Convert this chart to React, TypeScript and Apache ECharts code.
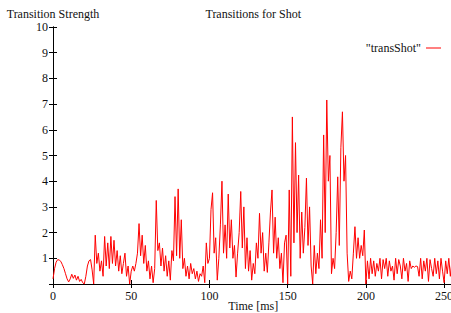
import React, { useEffect, useRef } from "react";
import * as echarts from "echarts";

// Transition strength sampled every 1 ms, starting at t = 0 ms
const timeStepMs = 1;
const transShot: number[] = [
  0.2, 0.6, 0.85, 0.95, 0.93, 0.88, 0.75, 0.6, 0.4, 0.2,
  0.08, 0.2, 0.38, 0.22, 0.35, 0.15, 0.3, 0.1, 0.18, 0.05,
  0.0, 0.3, 0.7, 0.9, 0.95, 0.55, 0.0, 1.9, 0.8, 1.2,
  0.5, 0.9, 0.3, 1.85, 0.7, 1.6, 0.6, 1.85, 0.8, 1.7,
  0.7, 1.3, 0.5, 1.1, 0.4, 0.8, 1.2, 0.3, 0.7, 0.0,
  0.5, 0.7, 0.5, 0.8, 1.2, 2.35, 1.1, 1.9, 0.8, 1.5,
  0.5, 0.9, 0.2, 0.7, 0.05, 0.6, 3.25, 1.3, 1.6, 0.7,
  1.4, 0.5, 1.1, 0.3, 0.9, 0.15, 1.3, 0.9, 3.4, 1.1,
  3.7, 1.0, 2.5, 0.6, 1.0, 0.3, 0.7, 0.2, 0.8, 0.4,
  0.6, 0.2, 0.5, 0.1, 0.4, 0.3, 0.7, 0.05, 1.6, 0.8,
  1.0, 2.9, 3.55, 1.2, 1.8, 0.15, 1.0, 2.3, 4.0, 1.2,
  2.3, 1.0, 3.5, 1.4, 2.5, 1.0, 1.5, 0.27, 1.2, 2.0,
  3.6, 1.4, 3.0, 0.6, 1.8, 0.5, 1.3, 0.15, 0.8, 0.4,
  1.6, 1.0, 2.75, 1.2, 2.0, 0.5, 1.2, 0.45, 1.6, 2.8,
  3.66, 1.2, 2.6, 1.0, 1.8, 0.6, 1.2, 0.05, 1.6, 1.9,
  0.0, 3.66, 0.3, 6.5, 1.6, 5.5, 2.0, 4.24, 1.0, 2.8,
  1.2, 2.2, 4.12, 1.5, 3.0, 0.7, 0.0, 1.5, 0.4, 1.2,
  0.6, 2.5, 1.0, 5.8, 2.0, 7.16, 4.0, 5.0, 0.4, 1.0,
  0.6, 2.0, 4.17, 1.5, 5.3, 6.7, 4.0, 5.0, 1.2, 0.1,
  0.5, 0.2, 1.2, 2.23, 1.0, 1.8, 1.0, 1.5, 1.1, 2.1,
  0.0, 0.9, 0.2, 1.0, 0.4, 0.9, 0.3, 0.8, 0.5, 1.0,
  0.2, 0.95, 0.6, 1.0, 0.3, 0.9, 0.5, 0.7, 0.15, 1.0,
  0.4, 0.95, 0.7, 0.2, 1.0, 0.5, 0.8, 0.1, 0.9, 0.6,
  0.7, 0.65, 0.7, 0.68, 0.3, 1.0, 0.2, 0.9, 0.5, 1.0,
  0.1, 0.95, 0.6, 0.3, 1.0, 0.4, 0.9, 0.2, 1.0, 0.5,
  0.05, 0.9, 0.4, 1.0, 0.3, 0.9, 0.6,
];

const xTickLabels = ["0", "50", "100", "150", "200", "250"];
const yTickLabels = ["1", "2", "3", "4", "5", "6", "7", "8", "9", "10"];

const chartTitle = "Transitions for Shot";
const xTitle = "Time [ms]";
const yTitle = "Transition Strength";
const seriesName = '"transShot"';

const FONT = "Liberation Serif";
const TEXT_COLOR = "#111";

export default function App() {
  const ref = useRef<HTMLDivElement>(null);

  useEffect(() => {
    if (!ref.current) return;
    const chart = echarts.init(ref.current, undefined, { renderer: "svg" });
    const data = transShot.map((v, i) => [i * timeStepMs, v]);
    const axisLine = { show: true, lineStyle: { color: "#000", width: 1 } };
    const xLabelFmt = (v: number) => (xTickLabels.includes(String(v)) ? String(v) : "");
    const yLabelFmt = (v: number) => (yTickLabels.includes(String(v)) ? String(v) : "");
    chart.setOption({
      animation: false,
      backgroundColor: "#fff",
      grid: {
        left: 53,
        top: 27,
        right: -2.5,
        bottom: 29,
        containLabel: false,
        outerBoundsMode: "none",
      },
      legend: {
        data: [seriesName],
        align: "right",
        right: 5,
        top: 37,
        itemWidth: 15,
        itemHeight: 1,
        icon: "rect",
        textStyle: { fontFamily: FONT, fontSize: 12, color: TEXT_COLOR },
      },
      xAxis: [
        {
          type: "value",
          position: "bottom",
          min: 0,
          max: 256,
          interval: 50,
          axisLine,
          axisTick: { show: true, inside: true, length: 4, lineStyle: { color: "#000" } },
          axisLabel: { formatter: xLabelFmt, fontFamily: FONT, fontSize: 12, color: TEXT_COLOR, margin: 6 },
          splitLine: { show: false },
          name: xTitle,
          nameLocation: "middle",
          nameGap: 16,
          nameMoveOverlap: false,
          nameTextStyle: { fontFamily: FONT, fontSize: 12, color: TEXT_COLOR },
        },
        {
          type: "value",
          position: "top",
          min: 0,
          max: 256,
          interval: 50,
          axisLine,
          axisTick: { show: true, inside: true, length: 4, lineStyle: { color: "#000" } },
          axisLabel: { show: false },
          splitLine: { show: false },
          name: chartTitle,
          nameLocation: "middle",
          nameGap: 7,
          nameTextStyle: { fontFamily: FONT, fontSize: 12, color: TEXT_COLOR },
        },
      ],
      yAxis: [
        {
          type: "value",
          position: "left",
          min: 0,
          max: 10,
          interval: 1,
          axisLine,
          axisTick: { show: true, inside: true, length: 4, lineStyle: { color: "#000" } },
          axisLabel: { formatter: yLabelFmt, fontFamily: FONT, fontSize: 12, color: TEXT_COLOR, margin: 5 },
          splitLine: { show: false },
          name: yTitle,
          nameLocation: "end",
          nameGap: 7,
          nameTextStyle: { fontFamily: FONT, fontSize: 12, color: TEXT_COLOR },
        },
        {
          type: "value",
          position: "right",
          min: 0,
          max: 10,
          interval: 1,
          axisLine,
          axisTick: { show: true, inside: true, length: 4, lineStyle: { color: "#000" } },
          axisLabel: { show: false },
          splitLine: { show: false },
        },
      ],
      series: [
        {
          name: seriesName,
          type: "line",
          xAxisIndex: 0,
          yAxisIndex: 0,
          data,
          showSymbol: false,
          symbol: "none",
          color: "#ff0000",
          lineStyle: { color: "#ff0000", width: 1 },
          itemStyle: { color: "#ff0000" },
        },
      ],
    });
    return () => chart.dispose();
  }, []);

  return (
    <div
      ref={ref}
      style={{ position: "fixed", left: 0, top: 0, width: 451, height: 313, background: "#fff" }}
    />
  );
}
